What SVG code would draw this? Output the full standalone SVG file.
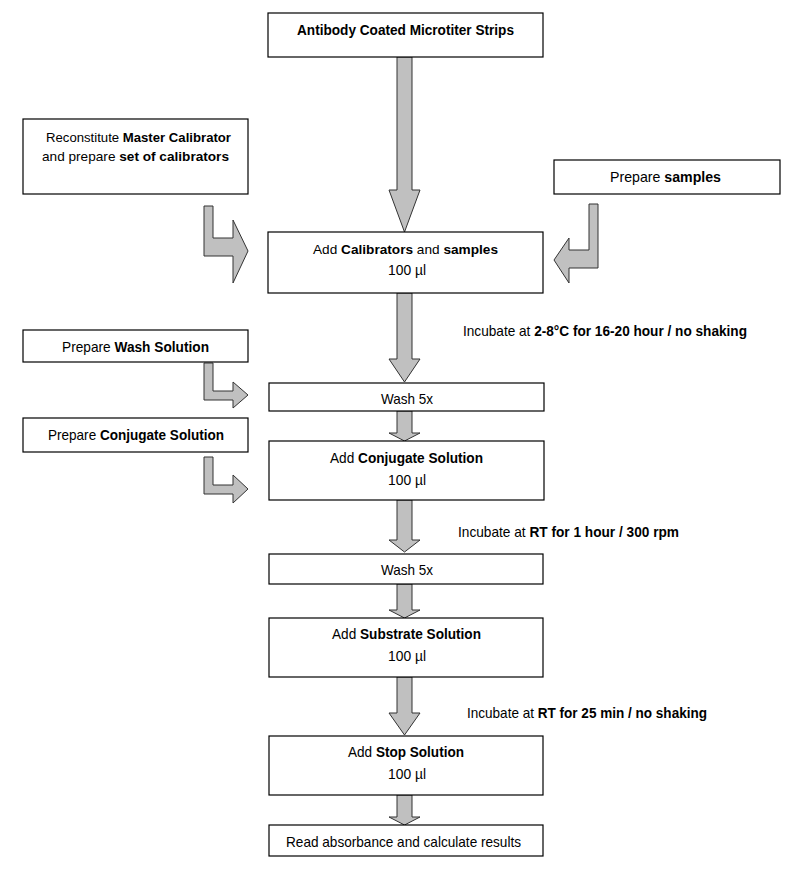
<svg xmlns="http://www.w3.org/2000/svg" width="803" height="879" viewBox="0 0 803 879">
<style>
.box{fill:#fff;stroke:#000;stroke-width:1.2}
.arr{fill:#c0c0c0;stroke:#333;stroke-width:1}
text{font-family:"Liberation Sans Narrow","Arial Narrow","Liberation Sans",Arial,sans-serif;font-size:14.5px;fill:#000}
.s{font-size:13.6px}
.b{font-weight:bold}
</style>
<rect width="803" height="879" fill="#fff"/>
<g id="connectors">
<path class="arr" d="M397,57 L412,57 L412,190 L420,190 L404.5,232 L389,190 L397,190 Z"/>
<path class="arr" d="M397,293 L412,293 L412,359 L420,359 L404.5,382 L389,359 L397,359 Z"/>
<path class="arr" d="M397,411 L412,411 L412,433 L420,433 L404.5,441 L389,433 L397,433 Z"/>
<path class="arr" d="M397,500 L412,500 L412,540 L420,540 L404.5,552 L389,540 L397,540 Z"/>
<path class="arr" d="M397,584 L412,584 L412,610 L420,610 L404.5,618 L389,610 L397,610 Z"/>
<path class="arr" d="M397,677 L412,677 L412,713 L420,713 L404.5,735 L389,713 L397,713 Z"/>
<path class="arr" d="M397,795 L412,795 L412,817 L420,817 L404.5,825 L389,817 L397,817 Z"/>
<path class="arr" d="M204,206 L213,206 L213,238 L233,238 L233,220 L248,251 L233,283 L233,256 L204,256 Z"/>
<path class="arr" d="M589,204 L598,204 L598,268 L569,268 L569,283 L554,260 L569,238 L569,250 L589,250 Z"/>
<path class="arr" d="M204,363 L213,363 L213,391 L233,391 L233,382 L248,395 L233,408 L233,400 L204,400 Z"/>
<path class="arr" d="M204,457 L213,457 L213,485 L233,485 L233,475 L248,489 L233,503 L233,494 L204,494 Z"/>
</g>
<g id="n-strips">
<rect class="box" x="268" y="13" width="275" height="44"/>
<text x="297" y="35" textLength="217" lengthAdjust="spacingAndGlyphs" class="b">Antibody Coated Microtiter Strips</text>
</g>
<g id="n-calibrator-prep">
<rect class="box" x="23" y="119" width="225" height="75"/>
<text class="s" x="46" y="142" textLength="185" lengthAdjust="spacingAndGlyphs">Reconstitute <tspan class="b">Master Calibrator</tspan></text>
<text class="s" x="42" y="161" textLength="187" lengthAdjust="spacingAndGlyphs">and prepare <tspan class="b">set of calibrators</tspan></text>
</g>
<g id="n-samples-prep">
<rect class="box" x="554" y="160" width="226" height="34"/>
<text x="610" y="182" textLength="111" lengthAdjust="spacingAndGlyphs">Prepare <tspan class="b">samples</tspan></text>
</g>
<g id="n-add-calibrators">
<rect class="box" x="268" y="232" width="275" height="61"/>
<text class="s" x="313" y="254" textLength="185" lengthAdjust="spacingAndGlyphs">Add <tspan class="b">Calibrators</tspan> and <tspan class="b">samples</tspan></text>
<text x="388" y="275" textLength="38" lengthAdjust="spacingAndGlyphs">100 µl</text>
</g>
<g id="n-incubate1">
<text x="463" y="336" textLength="284" lengthAdjust="spacingAndGlyphs">Incubate at <tspan class="b">2-8°C for 16-20 hour / no shaking</tspan></text>
</g>
<g id="n-wash-prep">
<rect class="box" x="23" y="330" width="225" height="32"/>
<text x="62" y="352" textLength="147" lengthAdjust="spacingAndGlyphs">Prepare <tspan class="b">Wash Solution</tspan></text>
</g>
<g id="n-wash1">
<rect class="box" x="269" y="383" width="275" height="28"/>
<text x="381" y="404" textLength="52" lengthAdjust="spacingAndGlyphs">Wash 5x</text>
</g>
<g id="n-conjugate-prep">
<rect class="box" x="23" y="418" width="225" height="34"/>
<text x="48" y="440" textLength="176" lengthAdjust="spacingAndGlyphs">Prepare <tspan class="b">Conjugate Solution</tspan></text>
</g>
<g id="n-add-conjugate">
<rect class="box" x="269" y="441" width="275" height="59"/>
<text x="330" y="463" textLength="153" lengthAdjust="spacingAndGlyphs">Add <tspan class="b">Conjugate Solution</tspan></text>
<text x="388" y="485" textLength="38" lengthAdjust="spacingAndGlyphs">100 µl</text>
</g>
<g id="n-incubate2">
<text x="458" y="537" textLength="221" lengthAdjust="spacingAndGlyphs">Incubate at <tspan class="b">RT for 1 hour / 300 rpm</tspan></text>
</g>
<g id="n-wash2">
<rect class="box" x="269" y="554" width="274" height="30"/>
<text x="381" y="575" textLength="52" lengthAdjust="spacingAndGlyphs">Wash 5x</text>
</g>
<g id="n-add-substrate">
<rect class="box" x="269" y="618" width="274" height="59"/>
<text x="332" y="639" textLength="149" lengthAdjust="spacingAndGlyphs">Add <tspan class="b">Substrate Solution</tspan></text>
<text x="388" y="661" textLength="38" lengthAdjust="spacingAndGlyphs">100 µl</text>
</g>
<g id="n-incubate3">
<text x="467" y="718" textLength="240" lengthAdjust="spacingAndGlyphs">Incubate at <tspan class="b">RT for 25 min / no shaking</tspan></text>
</g>
<g id="n-add-stop">
<rect class="box" x="269" y="736" width="274" height="59"/>
<text x="348" y="757" textLength="116" lengthAdjust="spacingAndGlyphs">Add <tspan class="b">Stop Solution</tspan></text>
<text x="388" y="779" textLength="38" lengthAdjust="spacingAndGlyphs">100 µl</text>
</g>
<g id="n-read">
<rect class="box" x="269" y="825" width="274" height="31"/>
<text x="286" y="847" textLength="235" lengthAdjust="spacingAndGlyphs">Read absorbance and calculate results</text>
</g>
</svg>
